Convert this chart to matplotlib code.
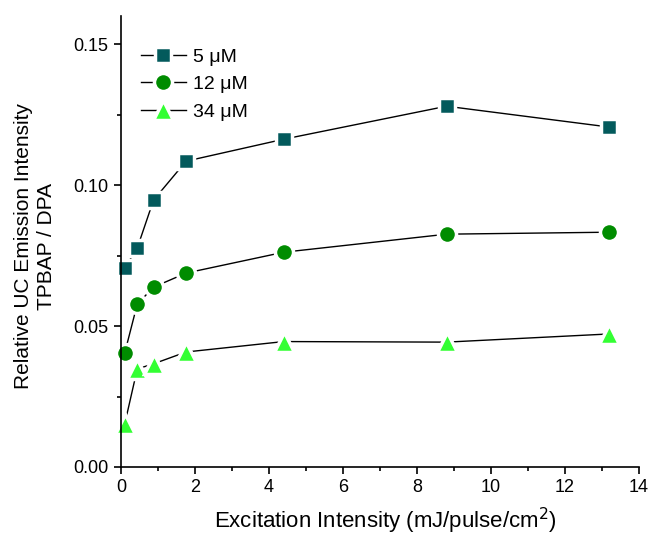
import matplotlib
matplotlib.use("Agg")
import matplotlib.pyplot as plt
from matplotlib.ticker import MultipleLocator, FormatStrFormatter

plt.rcParams['font.family'] = ['Liberation Sans', 'DejaVu Sans']

# excitation intensity (mJ/pulse/cm2)
x = [0.1, 0.44, 0.88, 1.76, 4.4, 8.8, 13.2]

# relative UC emission TPBAP / DPA
y_5uM = [0.0706, 0.0777, 0.0947, 0.1085, 0.1163, 0.1280, 0.1206]
y_12uM = [0.0404, 0.0578, 0.0638, 0.0688, 0.0762, 0.0826, 0.0833]
y_34uM = [0.0152, 0.0348, 0.0366, 0.0408, 0.0445, 0.0443, 0.0472]

labels = ['5 μM', '12 μM', '34 μM']

fig = plt.figure(figsize=(6.54, 5.34), dpi=100)
ax = fig.add_axes([0.185, 0.1255, 0.792, 0.8445])

common = dict(color='black', lw=1, markeredgecolor='white', mew=2.5, clip_on=False)
ax.plot(x, y_5uM, marker='s', ms=12, markerfacecolor='#035a5c', label=labels[0], **common)
ax.plot(x, y_12uM, marker='o', ms=13, markerfacecolor='#008c00', label=labels[1], **common)
ax.plot(x, y_34uM, marker='^', ms=14, markerfacecolor='#33ff33', label=labels[2], **common)

ax.set_xlim(0, 14)
ax.set_ylim(0, 0.16)
ax.xaxis.set_major_locator(MultipleLocator(2))
ax.xaxis.set_minor_locator(MultipleLocator(1))
ax.yaxis.set_major_locator(MultipleLocator(0.05))
ax.yaxis.set_minor_locator(MultipleLocator(0.025))
ax.yaxis.set_major_formatter(FormatStrFormatter('%.2f'))

ax.spines['top'].set_visible(False)
ax.spines['right'].set_visible(False)
for s in ('left', 'bottom'):
    ax.spines[s].set_linewidth(1.2)
ax.tick_params(which='major', direction='out', length=5, width=1.2, labelsize=13, pad=4)
ax.tick_params(which='minor', direction='out', length=3, width=1.2)

ax.set_xlabel('Excitation Intensity (mJ/pulse/cm$^2$)', fontsize=16, va='top')
ax.xaxis.set_label_coords(0.51, -0.085)
ax.set_ylabel('Relative UC Emission Intensity\nTPBAP / DPA', fontsize=15, linespacing=1.3)
ax.yaxis.set_label_coords(-0.125, 0.49)

ax.legend(loc='upper left', bbox_to_anchor=(0.02, 0.95), frameon=False, fontsize=14,
          handlelength=2.3, handletextpad=0.35, labelspacing=0.5, borderpad=0)

fig.savefig('out.png', dpi=100)
